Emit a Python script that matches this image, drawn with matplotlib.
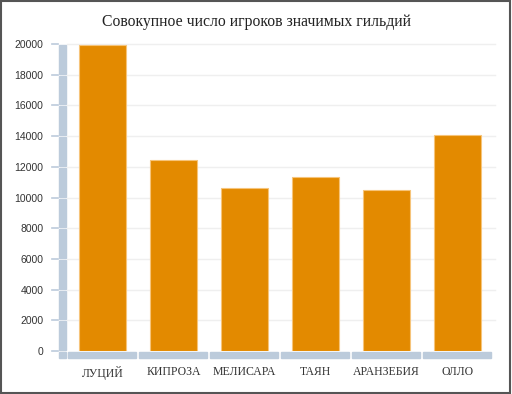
import matplotlib
matplotlib.use("Agg")
import matplotlib.pyplot as plt
import matplotlib.transforms as mtrans
from matplotlib.patches import Rectangle

# guild totals
guilds = ["ЛУЦИЙ", "КИПРОЗА", "МЕЛИСАРА", "ТАЯН", "АРАНЗЕБИЯ", "ОЛЛО"]
players = [19950, 12450, 10630, 11330, 10480, 14090]
yticks = list(range(0, 20001, 2000))

BAR = "#e38a00"
EDGE = "#f6c47a"
AXIS = "#bccbdb"
GRID = "#efefef"

W, H = 512, 394
fig = plt.figure(figsize=(W / 100, H / 100), dpi=100)
# plot area in pixels: x 67..493, y 44..351
ax = fig.add_axes([67 / W, (H - 351) / H, 426 / W, 307 / H])

ax.bar(range(len(guilds)), players, width=0.65, color=BAR, edgecolor=EDGE,
       linewidth=0.8, zorder=3)
ax.set_xlim(-0.5, len(guilds) - 0.5)
ax.set_ylim(0, 20000)

ax.set_yticks(yticks)
ax.set_yticklabels([str(v) for v in yticks], fontsize=7.5, color="#333333",
                   family="Liberation Sans")
ax.set_xticks(range(len(guilds)))
ax.set_xticklabels(guilds, fontsize=8.5, color="#333333", family="Liberation Serif")
ax.tick_params(axis="y", length=0, pad=17)
ax.tick_params(axis="x", length=0, pad=10.5)
for s in ax.spines.values():
    s.set_visible(False)

px_x = 1 / 426   # one pixel in axes-x
px_y = 1 / 307   # one pixel in axes-y
ty = mtrans.blended_transform_factory(ax.transAxes, ax.transData)
for v in yticks[1:]:
    ax.plot([0, 1 + 2 * px_x], [v, v], color=GRID, lw=1, zorder=1,
            transform=ty, clip_on=False)

# segmented y-axis bar with tick stubs
step = yticks[1] - yticks[0]
one = 20000 / 307
for v in yticks[:-1]:
    ax.add_patch(Rectangle((-8 * px_x, v + one), 7 * px_x, step - 2 * one,
                           transform=ty, color=AXIS, clip_on=False, zorder=2))
ax.add_patch(Rectangle((-8 * px_x, -7 * one), 7 * px_x, 6 * one,
                       transform=ty, color=AXIS, clip_on=False, zorder=2))
for v in yticks:
    ax.plot([-15 * px_x, -9 * px_x], [v, v], color=AXIS, lw=1.2,
            transform=ty, clip_on=False, zorder=2)

# segmented x-axis bar, one piece per category
tx = mtrans.blended_transform_factory(ax.transData, ax.transAxes)
for i in range(len(guilds)):
    ax.add_patch(Rectangle((i - 0.5 + 0.008, -7 * px_y), 1 - 0.03, 6 * px_y,
                           transform=tx, color=AXIS, clip_on=False, zorder=2))

fig.text(0.5, 1 - 22 / H, "Совокупное число игроков значимых гильдий",
         ha="center", va="center", fontsize=11.3, family="Liberation Serif",
         color="#222222")

fig.patches.append(Rectangle((0.002, 0.003), 0.995, 0.994, transform=fig.transFigure,
                             fill=False, edgecolor="#555555", lw=1.5))

fig.savefig("out.png", dpi=100)
